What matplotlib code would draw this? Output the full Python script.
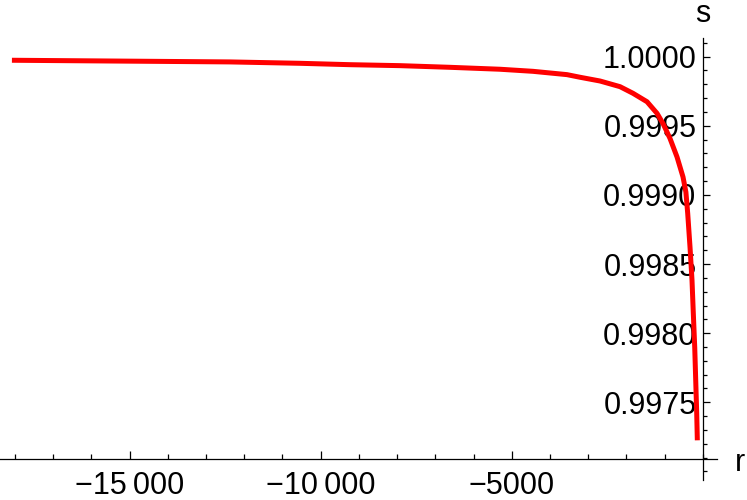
import numpy as np
import matplotlib.pyplot as plt
from matplotlib.ticker import MultipleLocator, FixedLocator, FixedFormatter

plt.rcParams['font.family'] = ['Liberation Sans', 'DejaVu Sans']

# values
r = [-18083, -12375, -10543, -9234, -7925, -6616, -5307, -4443, -3553,
     -3212, -2689, -2165, -1825, -1458, -1196, -1040, -857, -673, -516,
     -440, -393, -332, -280, -246, -209, -183, -157, -141]
s = [0.999974, 0.999962, 0.999952, 0.999942, 0.999935, 0.999923, 0.999909,
     0.999894, 0.999870, 0.999851, 0.999824, 0.999783, 0.999735, 0.999674,
     0.999590, 0.999517, 0.999409, 0.999275, 0.999130, 0.999020, 0.998867,
     0.998621, 0.998382, 0.998143, 0.997897, 0.997658, 0.997420, 0.997225]

xticks = [-15000, -10000, -5000]
xtick_labels = ["\u221215\u2009000", "\u221210\u2009000", "\u22125000"]
yticks = [0.9975, 0.9980, 0.9985, 0.9990, 0.9995, 1.0000]
ytick_labels = ["0.9975", "0.9980", "0.9985", "0.9990", "0.9995", "1.0000"]

fig = plt.figure(figsize=(7.47, 5), dpi=100)
ax = fig.add_axes([0, 0.04, 717 / 747, 0.884])

ax.plot(r, s, color='#ff0000', lw=3.6, solid_capstyle='butt',
        solid_joinstyle='round')

ax.set_xlim(-18395, 374)
ax.set_ylim(0.996938, 1.000135)

ax.spines['left'].set_position(('data', 0))
ax.spines['bottom'].set_position(('data', 0.99709))
ax.spines['top'].set_visible(False)
ax.spines['right'].set_visible(False)
for sp in ['left', 'bottom']:
    ax.spines[sp].set_linewidth(0.9)

ax.xaxis.set_major_locator(FixedLocator(xticks))
ax.xaxis.set_major_formatter(FixedFormatter(xtick_labels))
ax.xaxis.set_minor_locator(MultipleLocator(1000))
ax.yaxis.set_major_locator(FixedLocator(yticks))
ax.yaxis.set_major_formatter(FixedFormatter(ytick_labels))
ax.yaxis.set_minor_locator(MultipleLocator(0.0001))

ax.tick_params(which='both', direction='in', labelsize=22, width=0.9)
ax.tick_params(axis='x', which='major', length=6, pad=9)
ax.tick_params(axis='x', which='minor', length=3.5)
ax.tick_params(axis='y', which='major', length=5, pad=4.5)
ax.tick_params(axis='y', which='minor', length=3)

fig.text(703 / 747, 1 - 14 / 500, "s", fontsize=22, ha='center', va='center')
fig.text(740 / 747, 1 - 463 / 500, "r", fontsize=22, ha='center', va='center')

fig.savefig("out.png", dpi=100)
